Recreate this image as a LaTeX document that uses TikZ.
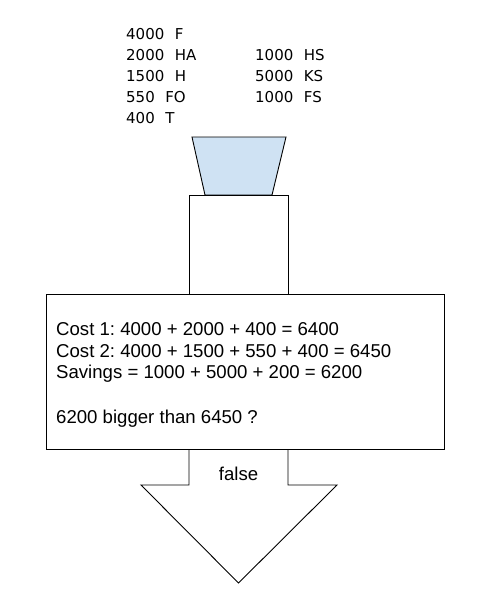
\documentclass[tikz,border=0pt]{standalone}
\usepackage{fontspec}
\setmainfont{Liberation Sans}
\newfontfamily\verd{DejaVu Sans}
\newcommand{\twosp}{\hspace{0.704em}}
\begin{document}
\frenchspacing
\begin{tikzpicture}[x=1pt,y=-1pt,
  shape line/.style={draw=black,line width=0.9pt,line join=miter},
  toptext/.style={anchor=base west,inner sep=0pt,font=\verd\fontsize{15}{17}\selectfont},
  boxtext/.style={anchor=base west,inner sep=0pt,font=\fontsize{18.6}{22}\selectfont},
]
\useasboundingbox[fill=white] (0,0) rectangle (482,605);
% top list
\node[toptext] (l1) at (126,39.3) {4000\twosp F};
\node[toptext] (l2) at (126,60.3) {2000\twosp HA};
\node[toptext] (l3) at (126,81.3) {1500\twosp H};
\node[toptext] (l4) at (126,102.3) {550\twosp FO};
\node[toptext] (l5) at (126,123.3) {400\twosp T};
\node[toptext] (r2) at (255,60.3) {1000\twosp HS};
\node[toptext] (r3) at (255,81.3) {5000\twosp KS};
\node[toptext] (r4) at (255,102.3) {1000\twosp FS};
% hopper
\draw[shape line,fill={rgb,255:red,207;green,226;blue,243}]
  (192,137) -- (286,137) -- (272,195) -- (205,195) -- cycle;
% upper block
\draw[shape line,fill=white] (189,195) rectangle (288,294);
% arrow
\draw[shape line,fill=white] (189,449) -- (189,485) -- (141,485) -- (238.5,583) -- (337,485) -- (288,485) -- (288,449);
% main box
\draw[shape line,fill=white] (46,294) rectangle (444,449);
\node[boxtext] (c1) at (56,335.7) {Cost 1: 4000 + 2000 + 400 = 6400};
\node[boxtext] (c2) at (56,357) {Cost 2: 4000 + 1500 + 550 + 400 = 6450};
\node[boxtext] (c3) at (56,378.3) {Savings = 1000 + 5000 + 200 = 6200};
\node[boxtext] (c4) at (56,423) {6200 bigger than 6450 ?};
\node[anchor=base,inner sep=0pt,font=\fontsize{18.6}{22}\selectfont] (f) at (238.5,480) {false};
\end{tikzpicture}
\end{document}
